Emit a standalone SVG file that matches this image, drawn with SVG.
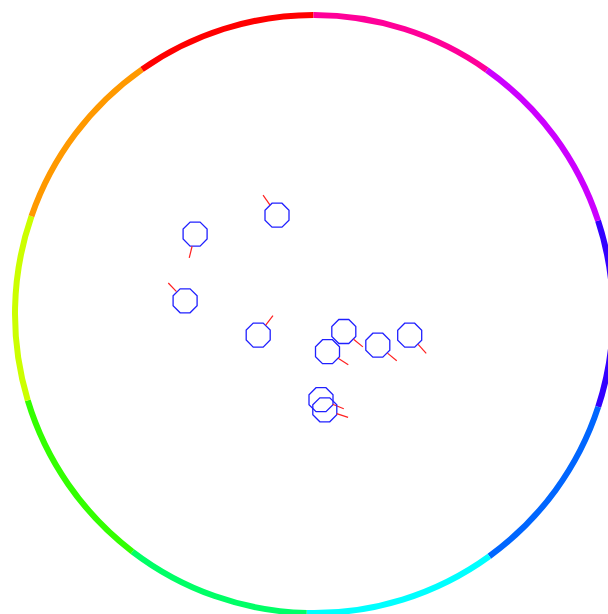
<svg xmlns="http://www.w3.org/2000/svg" xmlns:xlink="http://www.w3.org/1999/xlink" width="608" height="614" viewBox="0 0 608 614">
<style>
.seg{fill:none;stroke-width:6;stroke-linecap:butt}
.oct{fill:none;stroke:#2020ff;stroke-width:1.3}
.hd{stroke:#ff2020;stroke-width:1.2}
</style>
<defs>
<path id="oct" class="oct" d="M-4.97,-12 L4.97,-12 L12,-4.97 L12,4.97 L4.97,12 L-4.97,12 L-12,4.97 L-12,-4.97 Z"/>
<line id="hd" class="hd" x1="12.5" y1="0" x2="24.5" y2="0"/>
</defs>
<rect width="608" height="614" fill="#ffffff"/>
<g id="ring">
<path class="seg" stroke="#3300ff" d="M598.04,220.61 A299,299 0 0 1 598.21,406.89"/>
<path class="seg" stroke="#0066ff" d="M598.21,406.89 A299,299 0 0 1 489.33,556.20"/>
<path class="seg" stroke="#00ffff" d="M489.33,556.20 A299,299 0 0 1 306.70,612.91"/>
<path class="seg" stroke="#00ff66" d="M306.70,612.91 A299,299 0 0 1 132.39,551.53"/>
<path class="seg" stroke="#33ff00" d="M132.39,551.53 A299,299 0 0 1 27.76,400.42"/>
<path class="seg" stroke="#ccff00" d="M27.76,400.42 A299,299 0 0 1 31.46,216.16"/>
<path class="seg" stroke="#ff9900" d="M31.46,216.16 A299,299 0 0 1 142.07,69.37"/>
<path class="seg" stroke="#ff0000" d="M142.07,69.37 A299,299 0 0 1 313.48,15.00"/>
<path class="seg" stroke="#ff0099" d="M313.48,15.00 A299,299 0 0 1 486.78,69.97"/>
<path class="seg" stroke="#cc00ff" d="M486.78,69.97 A299,299 0 0 1 598.04,220.61"/>
</g>
<g id="connectors"></g>
<g id="n1" transform="translate(277,215.2)"><use xlink:href="#oct"/><use xlink:href="#hd" transform="rotate(235.3)"/></g>
<g id="n2" transform="translate(195.1,234.1)"><use xlink:href="#oct"/><use xlink:href="#hd" transform="rotate(103.9)"/></g>
<g id="n3" transform="translate(185.1,300.8)"><use xlink:href="#oct"/><use xlink:href="#hd" transform="rotate(226.7)"/></g>
<g id="n4" transform="translate(258.2,335.1)"><use xlink:href="#oct"/><use xlink:href="#hd" transform="rotate(-53)"/></g>
<g id="n5" transform="translate(343.8,331.5)"><use xlink:href="#oct"/><use xlink:href="#hd" transform="rotate(38.8)"/></g>
<g id="n6" transform="translate(327.5,351.7)"><use xlink:href="#oct"/><use xlink:href="#hd" transform="rotate(32)"/></g>
<g id="n7" transform="translate(377.8,345.2)"><use xlink:href="#oct"/><use xlink:href="#hd" transform="rotate(39.4)"/></g>
<g id="n8" transform="translate(409.7,335.2)"><use xlink:href="#oct"/><use xlink:href="#hd" transform="rotate(47.6)"/></g>
<g id="n9" transform="translate(321,399.7)"><use xlink:href="#oct"/><use xlink:href="#hd" transform="rotate(21.6)"/></g>
<g id="n10" transform="translate(324.8,409.8)"><use xlink:href="#oct"/><use xlink:href="#hd" transform="rotate(18.1)"/></g>
</svg>
